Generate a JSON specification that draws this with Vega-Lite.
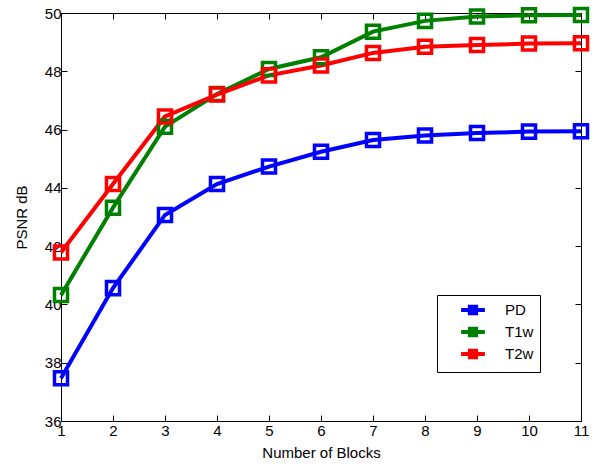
{
  "$schema": "https://vega.github.io/schema/vega-lite/v6.json",
  "width": 520,
  "height": 408,
  "autosize": {"type": "none"},
  "padding": {"left": 61, "top": 13, "right": 13, "bottom": 45},
  "background": "white",
  "config": {
    "view": {"stroke": "black", "strokeWidth": 1},
    "axis": {
      "grid": false,
      "labelFont": "Liberation Sans",
      "labelFontSize": 15,
      "labelColor": "black",
      "titleFont": "Liberation Sans",
      "titleFontSize": 15,
      "titleFontWeight": "normal",
      "titleColor": "black",
      "domainColor": "black",
      "tickColor": "black",
      "tickSize": -6,
      "labelPadding": 6
    }
  },
  "data": {
    "values": [
      {"series": "PD", "blocks": 1, "psnr": 37.47},
      {"series": "PD", "blocks": 2, "psnr": 40.56},
      {"series": "PD", "blocks": 3, "psnr": 43.07},
      {"series": "PD", "blocks": 4, "psnr": 44.13},
      {"series": "PD", "blocks": 5, "psnr": 44.73},
      {"series": "PD", "blocks": 6, "psnr": 45.24},
      {"series": "PD", "blocks": 7, "psnr": 45.64},
      {"series": "PD", "blocks": 8, "psnr": 45.8},
      {"series": "PD", "blocks": 9, "psnr": 45.88},
      {"series": "PD", "blocks": 10, "psnr": 45.93},
      {"series": "PD", "blocks": 11, "psnr": 45.94},
      {"series": "T1w", "blocks": 1, "psnr": 40.32},
      {"series": "T1w", "blocks": 2, "psnr": 43.32},
      {"series": "T1w", "blocks": 3, "psnr": 46.1},
      {"series": "T1w", "blocks": 4, "psnr": 47.22},
      {"series": "T1w", "blocks": 5, "psnr": 48.08},
      {"series": "T1w", "blocks": 6, "psnr": 48.48},
      {"series": "T1w", "blocks": 7, "psnr": 49.36},
      {"series": "T1w", "blocks": 8, "psnr": 49.73},
      {"series": "T1w", "blocks": 9, "psnr": 49.88},
      {"series": "T1w", "blocks": 10, "psnr": 49.92},
      {"series": "T1w", "blocks": 11, "psnr": 49.93},
      {"series": "T2w", "blocks": 1, "psnr": 41.78},
      {"series": "T2w", "blocks": 2, "psnr": 44.13},
      {"series": "T2w", "blocks": 3, "psnr": 46.45},
      {"series": "T2w", "blocks": 4, "psnr": 47.2},
      {"series": "T2w", "blocks": 5, "psnr": 47.86},
      {"series": "T2w", "blocks": 6, "psnr": 48.2},
      {"series": "T2w", "blocks": 7, "psnr": 48.63},
      {"series": "T2w", "blocks": 8, "psnr": 48.84},
      {"series": "T2w", "blocks": 9, "psnr": 48.9},
      {"series": "T2w", "blocks": 10, "psnr": 48.95},
      {"series": "T2w", "blocks": 11, "psnr": 48.96}
    ]
  },
  "encoding": {
    "x": {"field": "blocks", "type": "quantitative", "scale": {"domain": [1, 11], "nice": false, "zero": false}},
    "y": {"field": "psnr", "type": "quantitative", "scale": {"domain": [36, 50], "nice": false, "zero": false}},
    "color": {
      "field": "series",
      "type": "nominal",
      "scale": {"domain": ["PD", "T1w", "T2w"], "range": ["#0000FF", "#008000", "#FF0000"]},
      "legend": {
        "title": null,
        "orient": "none",
        "legendX": 376,
        "legendY": 282,
        "direction": "vertical",
        "fillColor": "white",
        "strokeColor": "black",
        "padding": 6,
        "rowPadding": -2,
        "symbolType": "M-1.7,0H1.7M-0.45,-0.45H0.45V0.45H-0.45Z",
        "symbolSize": 196,
        "symbolOffset": 21,
        "symbolStrokeWidth": 4,
        "symbolFillColor": "transparent",
        "labelFont": "Liberation Sans",
        "labelFontSize": 15,
        "labelColor": "black",
        "labelOffset": 23,
        "encode": {"symbols": {"update": {"fill": {"value": "transparent"}, "fillOpacity": {"value": 0}}}}
      }
    }
  },
  "layer": [
    {
      "mark": {"type": "line", "strokeWidth": 4, "clip": false},
      "encoding": {
        "x": {"field": "blocks", "type": "quantitative", "axis": {"title": "Number of Blocks", "values": [1,2,3,4,5,6,7,8,9,10,11], "labelPadding": 8, "titlePadding": 7, "labelFlush": false}},
        "y": {"field": "psnr", "type": "quantitative", "axis": {"title": "PSNR dB", "values": [36,38,40,42,44,46,48,50], "titlePadding": 15, "labelFlush": false}}
      }
    },
    {
      "mark": {"type": "point", "shape": "square", "filled": false, "size": 170, "strokeWidth": 3.5, "opacity": 1},
      "encoding": {
        "x": {"field": "blocks", "type": "quantitative", "axis": {"orient": "top", "values": [1,2,3,4,5,6,7,8,9,10,11], "labels": false, "title": null}},
        "y": {"field": "psnr", "type": "quantitative", "axis": {"orient": "right", "values": [36,38,40,42,44,46,48,50], "labels": false, "title": null}}
      }
    }
  ],
  "resolve": {"axis": {"x": "independent", "y": "independent"}}
}
